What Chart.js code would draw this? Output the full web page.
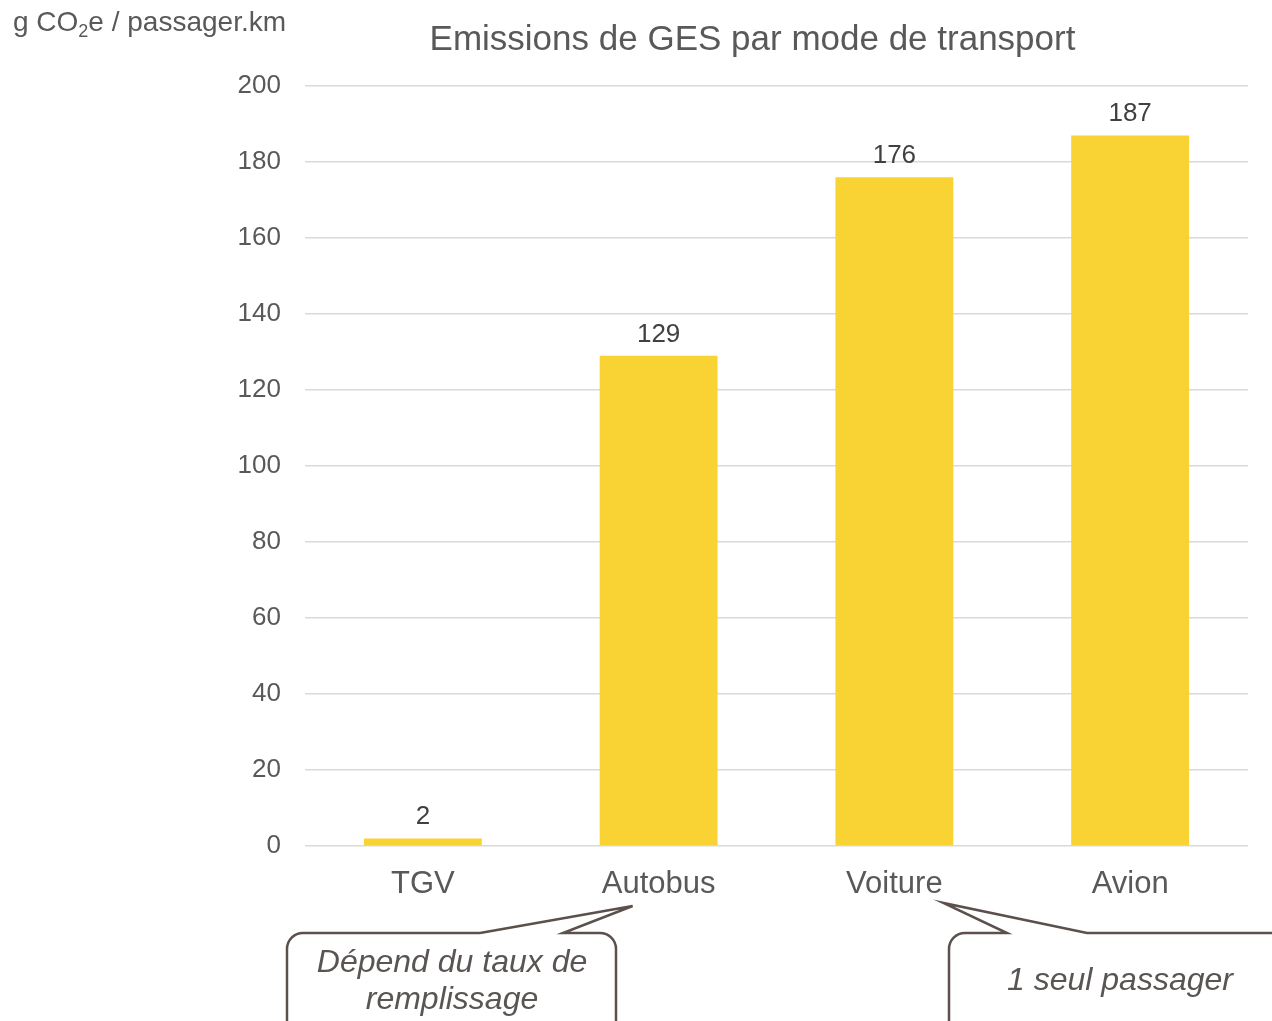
<!DOCTYPE html>
<html>
<head>
<meta charset="utf-8">
<script src="https://cdn.jsdelivr.net/npm/chart.js@4"></script>
<style>
  html, body { margin: 0; padding: 0; background: #ffffff; }
  #wrap { position: relative; width: 1272px; height: 1021px; overflow: hidden; }
  canvas { display: block; }
</style>
</head>
<body>
<div id="wrap"><canvas id="c" width="1272" height="1021"></canvas></div>
<script>
const categories = ["TGV", "Autobus", "Voiture", "Avion"];
const emissions = [2, 129, 176, 187];
const yTicks = [0, 20, 40, 60, 80, 100, 120, 140, 160, 180, 200];
const chartTitle = "Emissions de GES par mode de transport";
const unitParts = ["g CO", "2", "e / passager.km"];
const calloutTexts = [["Dépend du taux de", "remplissage"], ["1 seul passager"]];
const calloutTargets = ["Autobus", "Voiture"];

const FONT = '"Liberation Sans", Arial, Helvetica, sans-serif';
const TEXT = '#595959';
const LINE = '#5b504c';

const overlay = {
  id: 'overlay',
  afterDatasetsDraw(chart) {
    const ctx = chart.ctx;
    const meta = chart.getDatasetMeta(0);
    ctx.save();
    ctx.fillStyle = '#404040';
    ctx.font = '26px ' + FONT;
    ctx.textAlign = 'center';
    ctx.textBaseline = 'alphabetic';
    meta.data.forEach((bar, i) => {
      ctx.fillText(String(emissions[i]), bar.x, bar.y - 14);
    });
    ctx.restore();
  },
  afterDraw(chart) {
    const ctx = chart.ctx;
    const area = chart.chartArea;
    const xs = chart.scales.x;
    ctx.save();
    // title
    ctx.fillStyle = TEXT;
    ctx.font = '35px ' + FONT;
    ctx.textAlign = 'center';
    ctx.textBaseline = 'alphabetic';
    ctx.fillText(chartTitle, (area.left + area.right) / 2 - 24, 50);

    // unit label with subscript
    ctx.textAlign = 'left';
    ctx.font = '28px ' + FONT;
    let x = 13;
    const base = 31;
    ctx.fillText(unitParts[0], x, base);
    x += ctx.measureText(unitParts[0]).width;
    ctx.font = '18px ' + FONT;
    ctx.fillText(unitParts[1], x, base + 6);
    x += ctx.measureText(unitParts[1]).width;
    ctx.font = '28px ' + FONT;
    ctx.fillText(unitParts[2], x, base);

    // callouts
    ctx.strokeStyle = LINE;
    ctx.lineWidth = 2.5;
    ctx.lineJoin = 'miter';
    const top = area.bottom + 87;
    const r = 16;
    const below = 1060;

    // callout 1 (Autobus)
    const c1 = xs.getPixelForValue(categories.indexOf(calloutTargets[0]));
    const tip1 = { x: c1 - 26, y: area.bottom + 60 };
    const L1 = 287, R1 = 616;
    ctx.beginPath();
    ctx.moveTo(480, top);
    ctx.lineTo(L1 + r, top);
    ctx.arcTo(L1, top, L1, top + r, r);
    ctx.lineTo(L1, below);
    ctx.moveTo(R1, below);
    ctx.lineTo(R1, top + r);
    ctx.arcTo(R1, top, R1 - r, top, r);
    ctx.lineTo(563, top);
    ctx.lineTo(tip1.x, tip1.y);
    ctx.lineTo(480, top);
    ctx.stroke();

    // callout 2 (Voiture)
    const c2 = xs.getPixelForValue(categories.indexOf(calloutTargets[1]));
    const tip2 = { x: c2 + 49, y: area.bottom + 57 };
    const L2 = 949;
    ctx.beginPath();
    ctx.moveTo(1300, top);
    ctx.lineTo(1087, top);
    ctx.lineTo(tip2.x, tip2.y);
    ctx.lineTo(1007, top);
    ctx.lineTo(L2 + r, top);
    ctx.arcTo(L2, top, L2, top + r, r);
    ctx.lineTo(L2, below);
    ctx.stroke();

    // callout texts
    ctx.fillStyle = '#5a5552';
    ctx.font = 'italic 32px ' + FONT;
    ctx.textAlign = 'center';
    ctx.textBaseline = 'middle';
    ctx.fillText(calloutTexts[0][0], 452, 963);
    ctx.fillText(calloutTexts[0][1], 452, 1000);
    ctx.fillText(calloutTexts[1][0], 1120, 981);
    ctx.restore();
  }
};

new Chart(document.getElementById('c'), {
  type: 'bar',
  data: {
    labels: categories,
    datasets: [{
      data: emissions,
      backgroundColor: '#F9D333',
      borderWidth: 0,
      categoryPercentage: 1.0,
      barPercentage: 0.5
    }]
  },
  options: {
    responsive: false,
    animation: false,
    devicePixelRatio: 1,
    layout: { padding: { top: 86, right: 24, left: 0, bottom: 0 } },
    plugins: { legend: { display: false }, title: { display: false }, tooltip: { enabled: false } },
    scales: {
      x: {
        grid: { display: false, drawTicks: false },
        border: { display: false },
        ticks: { color: TEXT, font: { family: FONT, size: 31 }, padding: 20, maxRotation: 0 },
        afterFit(s) { s.height = 175; }
      },
      y: {
        min: 0, max: 200,
        afterBuildTicks(s) { s.ticks = yTicks.map(v => ({ value: v })); },
        grid: { color: '#d9d9d9', lineWidth: 1.5, drawTicks: false },
        border: { display: false },
        ticks: { color: TEXT, font: { family: FONT, size: 26 }, padding: 24 },
        afterFit(s) { s.width = 305; }
      }
    }
  },
  plugins: [overlay]
});
</script>
</body>
</html>
